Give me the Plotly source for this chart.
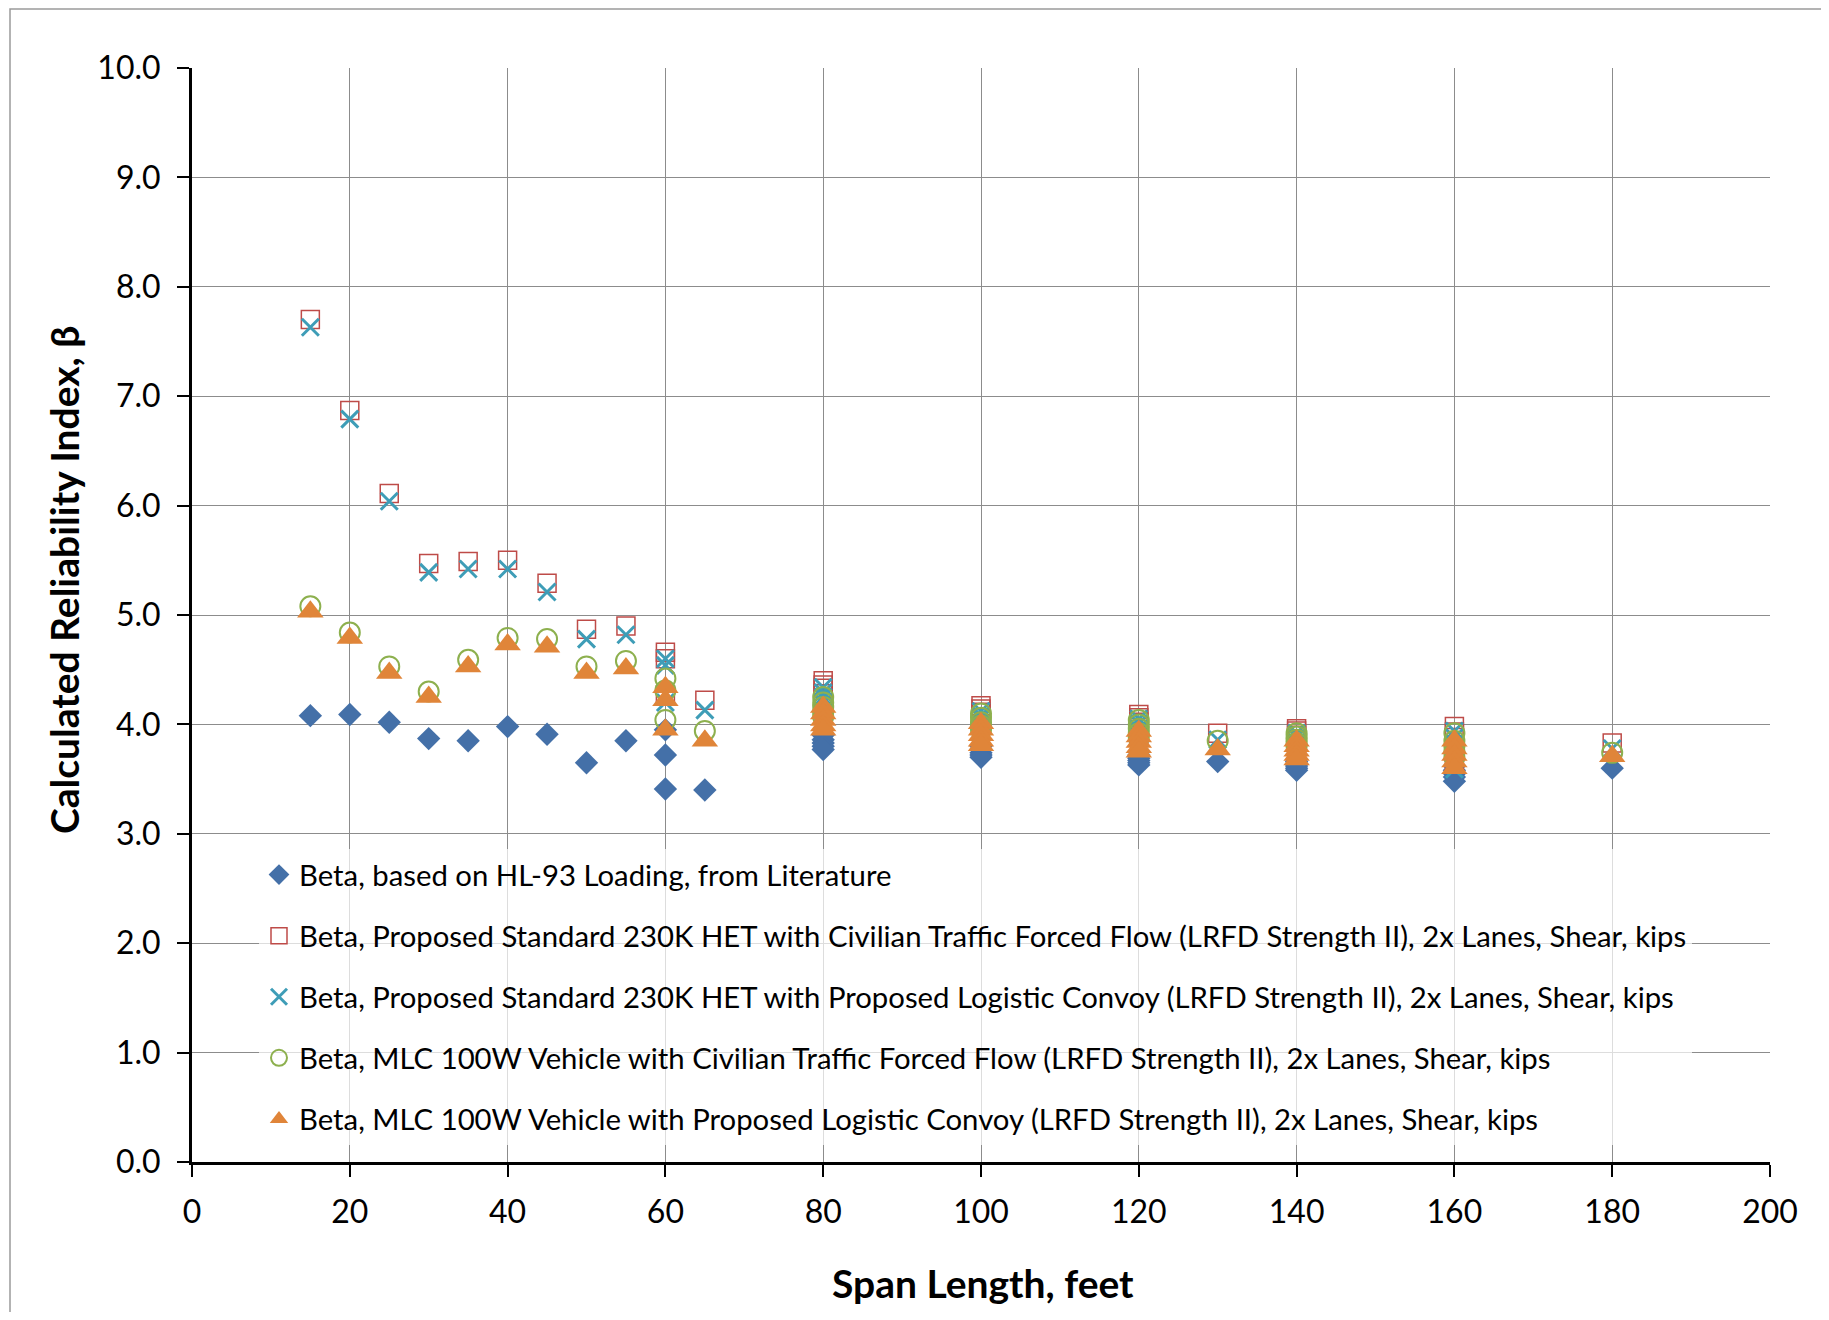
import plotly.graph_objects as go

# span lengths (ft) shared by every series; repeated spans hold several girder cases
SPANS = [15, 20, 25, 30, 35, 40, 45, 50, 55,
         60, 60, 60, 65,
         80, 80, 80, 80, 80,
         100, 100, 100, 100, 100,
         120, 120, 120, 120, 120,
         130,
         140, 140, 140, 140, 140,
         160, 160, 160, 160, 160,
         180]

BETA_HL93 = [4.08, 4.09, 4.02, 3.87, 3.85, 3.98, 3.91, 3.65, 3.85,
             3.95, 3.72, 3.41, 3.40,
             3.90, 3.86, 3.83, 3.80, 3.77,
             3.80, 3.77, 3.74, 3.72, 3.70,
             3.72, 3.69, 3.67, 3.65, 3.63,
             3.66,
             3.66, 3.64, 3.62, 3.60, 3.58,
             3.62, 3.58, 3.55, 3.52, 3.48,
             3.60]

BETA_HET_CIVIL = [7.70, 6.87, 6.11, 5.47, 5.49, 5.50, 5.29, 4.87, 4.90,
                  4.66, 4.60, 4.27, 4.22,
                  4.40, 4.36, 4.33, 4.28, 4.20,
                  4.17, 4.14, 4.11, 4.06, 4.00,
                  4.09, 4.06, 4.02, 3.97, 3.90,
                  3.92,
                  3.96, 3.94, 3.90, 3.85, 3.78,
                  3.98, 3.93, 3.88, 3.75, 3.65,
                  3.83]

BETA_HET_CONVOY = [7.63, 6.79, 6.04, 5.39, 5.42, 5.42, 5.21, 4.78, 4.82,
                   4.60, 4.54, 4.20, 4.13,
                   4.34, 4.29, 4.25, 4.20, 4.12,
                   4.12, 4.08, 4.05, 4.00, 3.93,
                   4.05, 4.01, 3.96, 3.90, 3.83,
                   3.86,
                   3.92, 3.88, 3.84, 3.78, 3.71,
                   3.94, 3.88, 3.82, 3.68, 3.59,
                   3.78]

BETA_MLC_CIVIL = [5.08, 4.84, 4.53, 4.30, 4.59, 4.79, 4.78, 4.53, 4.58,
                  4.42, 4.31, 4.04, 3.94,
                  4.25, 4.20, 4.16, 4.11, 4.07,
                  4.10, 4.06, 4.02, 3.99, 3.95,
                  4.04, 4.00, 3.96, 3.92, 3.88,
                  3.85,
                  3.92, 3.89, 3.86, 3.83, 3.80,
                  3.92, 3.85, 3.80, 3.75, 3.70,
                  3.74]

BETA_MLC_CONVOY = [5.03, 4.79, 4.47, 4.25, 4.53, 4.73, 4.71, 4.47, 4.51,
                   4.34, 4.22, 3.95, 3.85,
                   4.16, 4.10, 4.04, 3.99, 3.95,
                   4.01, 3.95, 3.90, 3.85, 3.81,
                   3.94, 3.89, 3.84, 3.79, 3.75,
                   3.77,
                   3.85, 3.80, 3.76, 3.72, 3.68,
                   3.85, 3.78, 3.72, 3.66, 3.60,
                   3.71]

NAMES = [
    "Beta, based on HL-93 Loading, from Literature",
    "Beta, Proposed Standard 230K HET with Civilian Traffic Forced Flow (LRFD Strength II), 2x Lanes, Shear, kips",
    "Beta, Proposed Standard 230K HET with Proposed Logistic Convoy (LRFD Strength II), 2x Lanes, Shear, kips",
    "Beta, MLC 100W Vehicle with Civilian Traffic Forced Flow (LRFD Strength II), 2x Lanes, Shear, kips",
    "Beta, MLC 100W Vehicle with Proposed Logistic Convoy (LRFD Strength II), 2x Lanes, Shear, kips",
]

X_TICKS = [0, 20, 40, 60, 80, 100, 120, 140, 160, 180, 200]
Y_TICKS = [0, 1, 2, 3, 4, 5, 6, 7, 8, 9, 10]

FONT = "Lato, 'Open Sans', sans-serif"

# page body has an 8px margin, so the figure is drawn 8px in from the window edge
OFF = 8
W, H = 1829 - 2 * OFF, 1320 - 2 * OFF
L, R, T, B = 192 - OFF, 1770 - OFF, 68 - OFF, 1162 - OFF   # plot area in figure pixels


def px_x(px):
    return (px - OFF - L) / (R - L)


def px_y(py):
    return (B - (py - OFF)) / (B - T)


styles = [
    dict(symbol="diamond", size=18, color="#4470A8", line=dict(width=0)),
    dict(symbol="square-open", size=18, color="#BE4B48", line=dict(width=1.5)),
    dict(symbol="x-thin-open", size=17, color="#3E9DB7", line=dict(width=3, color="#3E9DB7")),
    dict(symbol="circle-open", size=20, color="#8DB04E", line=dict(width=2)),
    dict(symbol="triangle-up", size=23, color="#E08539", line=dict(width=0)),
]
series = [BETA_HL93, BETA_HET_CIVIL, BETA_HET_CONVOY, BETA_MLC_CIVIL, BETA_MLC_CONVOY]

fig = go.Figure()
for i, (name, ys, mk) in enumerate(zip(NAMES, series, styles)):
    fig.add_trace(go.Scatter(
        x=SPANS, y=ys, mode="markers", name=name,
        marker=mk, legendgroup=f"g{i}",
    ))

fig.update_layout(
    width=W, height=H,
    margin=dict(l=L, r=W - R, t=T, b=H - B, pad=0),
    paper_bgcolor="white", plot_bgcolor="white",
    font=dict(family=FONT, color="#000000"),
    showlegend=True,
    legend=dict(
        x=px_x(259), y=px_y(849), xanchor="left", yanchor="top",
        bgcolor="rgba(255,255,255,0.7)",
        font=dict(size=29.3, family=FONT, color="#000000"),
        tracegroupgap=20,
        traceorder="grouped",
    ),
    xaxis=dict(
        range=[0, 200], tickmode="array", tickvals=X_TICKS,
        showgrid=True, gridcolor="#8c8c8c", gridwidth=1.3,
        showline=True, linecolor="#000000", linewidth=3,
        ticks="outside", ticklen=12, tickwidth=1.5, tickcolor="#000000",
        tickfont=dict(size=32, family=FONT), ticklabelstandoff=8,
        zeroline=False,
    ),
    yaxis=dict(
        range=[0, 10], tickmode="array", tickvals=Y_TICKS, tickformat=".1f",
        showgrid=True, gridcolor="#8c8c8c", gridwidth=1.3,
        showline=True, linecolor="#000000", linewidth=3,
        ticks="outside", ticklen=12, tickwidth=1.5, tickcolor="#000000",
        tickfont=dict(size=32, family=FONT), ticklabelstandoff=10,
        zeroline=False,
    ),
    annotations=[
        dict(text="<b>Span Length, feet</b>", xref="paper", yref="paper",
             x=px_x(983), y=px_y(1283), xanchor="center", yanchor="middle",
             showarrow=False, font=dict(size=39, family=FONT)),
        dict(text="<b>Calculated Reliability Index, β</b>", xref="paper", yref="paper",
             x=px_x(64), y=px_y(580), xanchor="center", yanchor="middle",
             showarrow=False, textangle=-90, font=dict(size=39, family=FONT)),
    ],
    shapes=[
        dict(type="rect", xref="paper", yref="paper",
             x0=px_x(10), x1=px_x(1830), y0=px_y(1319), y1=px_y(9),
             line=dict(color="#9a9a9a", width=1.5), layer="below"),
    ],
)

fig.write_html("out.html")
